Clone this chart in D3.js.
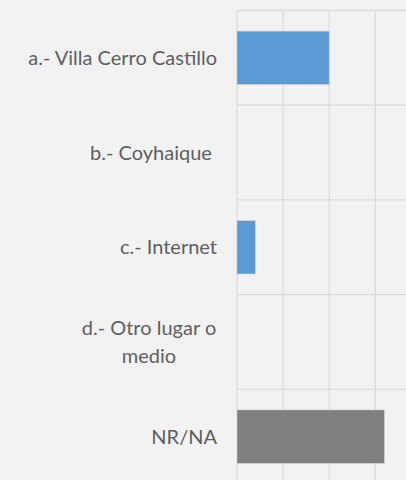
<!DOCTYPE html>
<html>
<head>
<meta charset="utf-8">
<script src="https://cdn.jsdelivr.net/npm/d3@7"></script>
<style>
  html, body { margin: 0; padding: 0; background: #f2f2f2; }
  svg { display: block; }
  .cat { font-family: Lato, "Open Sans", sans-serif; font-size: 20px; fill: #5f5f5f; white-space: pre; }
</style>
</head>
<body>
<div id="chart"></div>
<script>
// categories (lines of each label) and values
var categories = ["a", "b", "c", "d", "nr"];
var labels = [["a.- Villa Cerro Castillo"], ["b.- Coyhaique "], ["c.- Internet"], ["d.- Otro lugar o", "medio"], ["NR/NA"]];
var values = [20, 0, 4, 0, 32];
var colors = ["#5b9bd5", "#5b9bd5", "#5b9bd5", "#5b9bd5", "#7f7f7f"];
var xTicks = [0, 10, 20, 30, 40];

var W = 406, H = 480;
var svg = d3.select('#chart').append('svg').attr('width', W).attr('height', H);

var x = d3.scaleLinear().domain([0, 40]).range([237, 421.4]);
var y = d3.scaleBand().domain(categories).range([10.5, 484]).paddingInner(0.435).paddingOuter(0.2175);

var grid = svg.append('g');
// vertical gridlines
grid.selectAll('line.v')
	.data(xTicks)
	.enter().append('line')
		.attr('class', 'v')
		.attr('x1', function(d){ return x(d); })
		.attr('x2', function(d){ return x(d); })
		.attr('y1', 10.5).attr('y2', H)
		.attr('stroke', '#dcdcdc').attr('stroke-width', 1.3);

// horizontal category gridlines
grid.selectAll('line.h')
	.data(categories)
	.enter().append('line')
		.attr('class', 'h')
		.attr('x1', x(0)).attr('x2', W)
		.attr('y1', function(d){ return y(d) - y.step() * 0.2175; })
		.attr('y2', function(d){ return y(d) - y.step() * 0.2175; })
		.attr('stroke', '#dcdcdc').attr('stroke-width', 1.3);

// bars
svg.selectAll('rect.bar')
	.data(values)
	.enter().append('rect')
		.attr('class', 'bar')
		.attr('x', x(0))
		.attr('y', function(d, i){ return y(categories[i]); })
		.attr('width', function(d){ return x(d) - x(0); })
		.attr('height', y.bandwidth())
		.attr('fill', function(d, i){ return colors[i]; })
		.attr('stroke', function(d){ return d > 0 ? '#d9d9d9' : 'none'; })
		.attr('stroke-width', 0.6);

// category labels
var lineH = 27.7;
svg.selectAll('text.cat')
	.data(labels)
	.enter().append('text')
		.attr('class', 'cat')
		.attr('text-anchor', function(d){ return d.length > 1 ? 'middle' : 'end'; })
		.attr('x', function(d){ return d.length > 1 ? 149 : 217; })
		.attr('y', function(d, i){
			var c = y(categories[i]) + y.bandwidth() / 2;
			return c + 7 - (d.length - 1) * lineH / 2;
		})
		.each(function(d){
			var t = d3.select(this);
			d.forEach(function(line, k){
				t.append('tspan')
					.attr('x', t.attr('x'))
					.attr('dy', k === 0 ? 0 : lineH)
					.text(line);
			});
		});
</script>
</body>
</html>
